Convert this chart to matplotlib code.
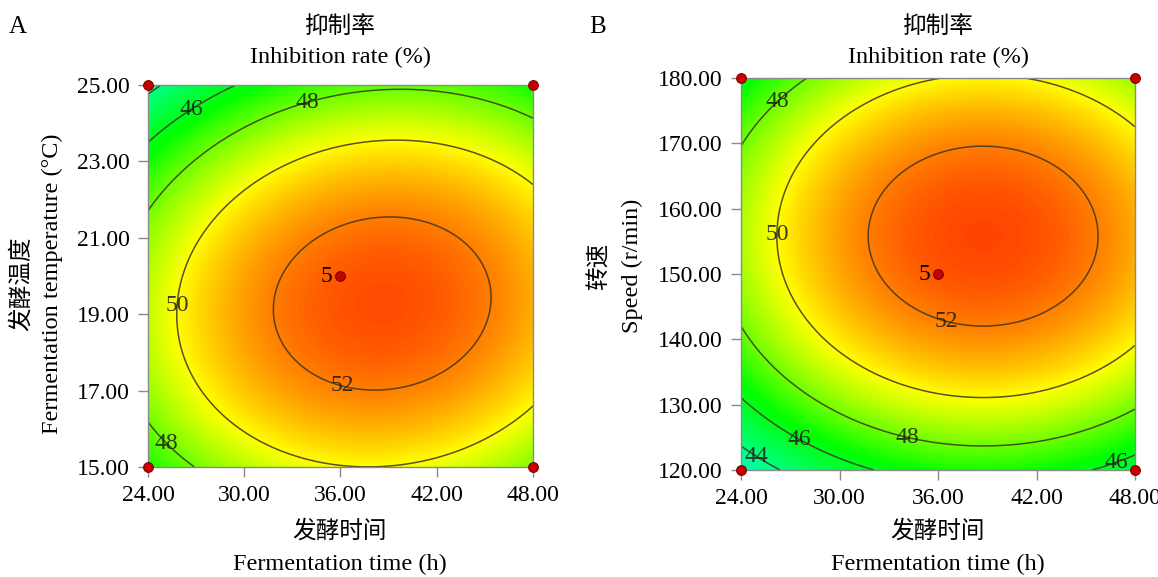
import numpy as np
import matplotlib
matplotlib.use("Agg")
import matplotlib.pyplot as plt
from matplotlib.colors import LinearSegmentedColormap
from matplotlib.ticker import FormatStrFormatter

plt.rcParams['font.family'] = ['Liberation Serif', 'Noto Sans CJK SC']
plt.rcParams['font.size'] = 17

# ---- data (fitted quadratic response surfaces) ----
time_range = [24.0, 48.0]
time_ticks = [24.0, 30.0, 36.0, 42.0, 48.0]

# panel A: fermentation time x fermentation temperature
temp_range = [15.0, 25.0]
temp_ticks = [15.0, 17.0, 19.0, 21.0, 23.0, 25.0]
a_peak = 52.78                 # max inhibition rate (%)
a_center = [38.6, 19.28]       # (time, temperature) of the optimum
a_curv = [0.01703, 0.1527, 0.007]   # time^2, temp^2, cross term
a_levels = [44, 46, 48, 50, 52]

# panel B: fermentation time x speed
speed_range = [120.0, 180.0]
speed_ticks = [120.0, 130.0, 140.0, 150.0, 160.0, 170.0, 180.0]
b_peak = 52.9
b_center = [38.75, 155.8]
b_curv = [0.01837, 0.00475, 0.0]
b_levels = [44, 46, 48, 50, 52]

# design points (factorial corners + centre, 5 replicates)
center_time = 36.0
center_temp = 20.0
center_speed = 150.0
center_reps = "5"

# colour scale as in Design-Expert: blue -> cyan -> green -> yellow -> red
cmap_values = [36.0, 41.5, 46.5, 50.0, 54.0]
cmap_colors = ['#0000ff', '#00ffff', '#00ff00', '#ffff00', '#ff0000']

W, H = 1158, 577
fig = plt.figure(figsize=(W / 100, H / 100), dpi=100)
fig.patch.set_facecolor('white')
cmin, cmax = cmap_values[0], cmap_values[-1]
cmap = LinearSegmentedColormap.from_list(
    'de', [((v - cmin) / (cmax - cmin), c) for v, c in zip(cmap_values, cmap_colors)])


def px(x, y):
    return x / W, 1 - y / H


def surface(xr, yr, peak, center, curv, n=400):
    x = np.linspace(xr[0], xr[1], n)
    y = np.linspace(yr[0], yr[1], n)
    X, Y = np.meshgrid(x, y)
    dx = X - center[0]
    dy = Y - center[1]
    Z = peak - curv[0] * dx ** 2 - curv[1] * dy ** 2 + curv[2] * dx * dy
    return X, Y, Z


def draw_panel(rect, xr, yr, yticks, peak, center, curv, levels, label_pos, cy):
    ax = fig.add_axes(rect)
    X, Y, Z = surface(xr, yr, peak, center, curv)
    ax.imshow(Z, extent=[xr[0], xr[1], yr[0], yr[1]], origin='lower', aspect='auto',
              cmap=cmap, vmin=cmin, vmax=cmax, interpolation='bilinear')
    cs = ax.contour(X, Y, Z, levels=levels, colors='#3b3520', linewidths=1.1, alpha=0.85)
    texts = ax.clabel(cs, inline=False, fmt='%d', fontsize=17, manual=label_pos, colors='#1a1a1a')
    for t in texts:
        t.set_rotation(0)
    corners_x = [xr[0], xr[0], xr[1], xr[1], center_time]
    corners_y = [yr[0], yr[1], yr[0], yr[1], cy]
    ax.plot(corners_x, corners_y, 'o', ms=7, mfc='#c80000', mec='#7a0000', mew=0.8,
            clip_on=False, zorder=10)
    ax.annotate(center_reps, (center_time, cy), xytext=(-14, 0), textcoords='offset pixels',
                ha='center', va='center', fontsize=17)
    ax.set_xlim(xr)
    ax.set_ylim(yr)
    ax.set_xticks(time_ticks)
    ax.set_yticks(yticks)
    ax.xaxis.set_major_formatter(FormatStrFormatter('%.2f'))
    ax.yaxis.set_major_formatter(FormatStrFormatter('%.2f'))
    ax.tick_params(direction='out', length=7, width=1, color='#8a8a8a', pad=6, labelsize=17)
    for s in ax.spines.values():
        s.set_color('#8a8a8a')
        s.set_linewidth(1.0)
    return ax


# panel A
rect_a = [148 / W, 1 - 467 / H, (533 - 148) / W, (467 - 85) / H]
labels_a = [(26.6, 24.42), (33.85, 24.66), (25.75, 19.24), (36.15, 17.22), (25.25, 15.65)]
draw_panel(rect_a, time_range, temp_range, temp_ticks, a_peak, a_center, a_curv,
           a_levels, labels_a, center_temp)

# panel B
rect_b = [741 / W, 1 - 470 / H, (1135 - 741) / W, (470 - 78) / H]
labels_b = [(26.07, 176.9), (25.77, 156.1), (36.6, 143.6), (34.17, 125.6),
            (27.6, 124.9), (25.0, 122.3), (46.8, 121.8)]
draw_panel(rect_b, time_range, speed_range, speed_ticks, b_peak, b_center, b_curv,
           b_levels, labels_b, center_speed)

# titles, axis labels, panel letters
fig.text(*px(18, 27), 'A', ha='center', va='center', fontsize=18)
fig.text(*px(598, 27), 'B', ha='center', va='center', fontsize=18)
for cx in (340, 938):
    fig.text(*px(cx, 27), '抑制率', ha='center', va='center', fontsize=17)
    fig.text(*px(cx, 57), 'Inhibition rate (%)', ha='center', va='center', fontsize=17.5)
    fig.text(*px(cx, 531), '发酵时间', ha='center', va='center', fontsize=17)
    fig.text(*px(cx, 564), 'Fermentation time (h)', ha='center', va='center', fontsize=17.5)

fig.text(*px(22, 284), '发酵温度', ha='center', va='center', rotation=90, fontsize=17)
fig.text(*px(52, 284), 'Fermentation temperature (°C)', ha='center', va='center',
         rotation=90, fontsize=17.5)
fig.text(*px(600, 266), '转速', ha='center', va='center', rotation=90, fontsize=17)
fig.text(*px(632, 266), 'Speed (r/min)', ha='center', va='center', rotation=90, fontsize=17.5)

fig.savefig('out.png', dpi=100, facecolor='white')
